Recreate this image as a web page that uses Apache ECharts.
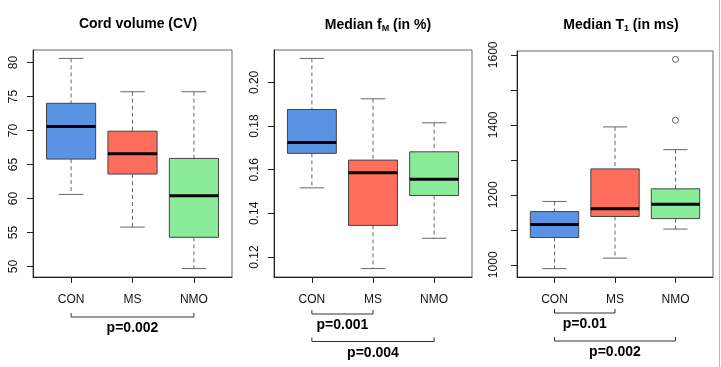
<!DOCTYPE html>
<html>
<head>
<meta charset="utf-8">
<script src="https://cdn.jsdelivr.net/npm/echarts@6/dist/echarts.min.js"></script>
<style>
  html, body { margin: 0; padding: 0; background: #fff; }
  #chart { width: 721px; height: 367px; }
</style>
</head>
<body>
<div id="chart"></div>
<script>
// groups and colours
var groups = ['CON', 'MS', 'NMO'];
var groupColors = ['#5b93e4', '#ff6e5c', '#8aeb98'];

// box stats per group: [lower whisker, Q1, median, Q3, upper whisker]
var cvStats = [
  [60.6, 65.8, 70.6, 74.0, 80.6],
  [55.8, 63.6, 66.6, 69.9, 75.7],
  [49.7, 54.3, 60.4, 65.9, 75.7]
];
var fmStats = [
  [0.1517, 0.1675, 0.1725, 0.1876, 0.2110],
  [0.1147, 0.1345, 0.1586, 0.1644, 0.1925],
  [0.1286, 0.1482, 0.1556, 0.1682, 0.1815]
];
var t1Stats = [
  [989, 1078, 1115, 1152, 1181],
  [1019, 1138, 1160, 1274, 1394],
  [1102, 1132, 1173, 1217, 1329]
];
var t1Outliers = [[3, 1587], [3, 1413]];

// y ticks / labels
var cvTicks = [50, 55, 60, 65, 70, 75, 80];
var fmTicks = [0.12, 0.14, 0.16, 0.18, 0.20];
var t1Ticks = [1000, 1100, 1200, 1300, 1400, 1500, 1600];
var t1Labels = [1000, 1200, 1400, 1600];

// significance brackets: [from group, to group]
var cvPairs = [[1, 3]];
var cvP = ['p=0.002'];
var fmPairs = [[1, 2], [1, 3]];
var fmP = ['p=0.001', 'p=0.004'];
var t1Pairs = [[1, 2], [1, 3]];
var t1P = ['p=0.01', 'p=0.002'];

var FONT = 'Liberation Sans, Arial, Helvetica, sans-serif';

// R style range: data range stretched by 4% each side
function rRange(stats, extra) {
  var all = [];
  stats.forEach(function (s) { all = all.concat(s); });
  (extra || []).forEach(function (p) { all.push(p[1]); });
  var lo = Math.min.apply(null, all), hi = Math.max.apply(null, all);
  var pad = (hi - lo) * 0.04;
  return [lo - pad, hi + pad];
}

var panels = [
  { stats: cvStats, out: [], ticks: cvTicks, labels: cvTicks, fmt: function (v) { return String(v); },
    pairs: cvPairs, p: cvP, brY: [40], grid: { left: 33, top: 50, width: 199, height: 227 }, labMargin: 13 },
  { stats: fmStats, out: [], ticks: fmTicks, labels: fmTicks, fmt: function (v) { return v.toFixed(2); },
    pairs: fmPairs, p: fmP, brY: [37, 64.5], grid: { left: 274, top: 50, width: 198, height: 227 }, labMargin: 13 },
  { stats: t1Stats, out: t1Outliers, ticks: t1Ticks, labels: t1Labels, fmt: function (v) { return String(v); },
    pairs: t1Pairs, p: t1P, brY: [36, 64], grid: { left: 517, top: 51, width: 196, height: 226 }, labMargin: 17 }
];

var grids = [], xAxes = [], yAxes = [], series = [];

panels.forEach(function (pn, k) {
  var yr = rRange(pn.stats, pn.out);
  grids.push(Object.assign({ show: true, borderColor: '#666', borderWidth: 1, containLabel: false }, pn.grid));
  xAxes.push({
    type: 'value', gridIndex: k, min: 0.38, max: 3.62,
    splitLine: { show: false },
    axisLine: { show: true, onZero: false, lineStyle: { color: '#222' } },
    axisTick: { show: true, length: 6, customValues: [1, 2, 3], lineStyle: { color: '#222' } },
    axisLabel: {
      customValues: [1, 2, 3], margin: 17, fontSize: 12, fontFamily: FONT, color: '#111',
      formatter: function (v) { return groups[Math.round(v) - 1]; }
    }
  });
  yAxes.push({
    type: 'value', gridIndex: k, min: yr[0], max: yr[1],
    splitLine: { show: false },
    axisLine: { show: true, lineStyle: { color: '#222' } },
    axisTick: { show: true, length: 6, customValues: pn.ticks, lineStyle: { color: '#222' } },
    axisLabel: {
      customValues: pn.labels, rotate: 90, margin: pn.labMargin, fontSize: 12, fontFamily: FONT, color: '#111',
      formatter: pn.fmt
    }
  });

  series.push({
    type: 'custom', xAxisIndex: k, yAxisIndex: k, clip: false,
    data: pn.stats.map(function (s, i) { return [i + 1].concat(s); }),
    encode: { x: 0, y: [1, 2, 3, 4, 5] },
    renderItem: function (params, api) {
      var x = api.value(0);
      var lo = api.value(1), q1 = api.value(2), med = api.value(3), q3 = api.value(4), hi = api.value(5);
      var pt = function (dx, v) { return api.coord([x + dx, v]); };
      var tl = pt(-0.4, q3), br = pt(0.4, q1);
      var c = pt(0, 0)[0];
      var whisk = { stroke: '#666', lineWidth: 1, lineDash: [4, 3] };
      var cap = { stroke: '#666', lineWidth: 1 };
      return {
        type: 'group',
        children: [
          { type: 'line', shape: { x1: c, y1: pt(0, hi)[1], x2: c, y2: tl[1] }, style: whisk },
          { type: 'line', shape: { x1: c, y1: br[1], x2: c, y2: pt(0, lo)[1] }, style: whisk },
          { type: 'line', shape: { x1: pt(-0.2, hi)[0], y1: pt(0, hi)[1], x2: pt(0.2, hi)[0], y2: pt(0, hi)[1] }, style: cap },
          { type: 'line', shape: { x1: pt(-0.2, lo)[0], y1: pt(0, lo)[1], x2: pt(0.2, lo)[0], y2: pt(0, lo)[1] }, style: cap },
          { type: 'rect', shape: { x: tl[0], y: tl[1], width: br[0] - tl[0], height: br[1] - tl[1] },
            style: { fill: groupColors[params.dataIndex], stroke: '#444', lineWidth: 1 } },
          { type: 'line', shape: { x1: tl[0], y1: pt(0, med)[1], x2: br[0], y2: pt(0, med)[1] },
            style: { stroke: '#000', lineWidth: 3 } }
        ]
      };
    }
  });

  var yMin = yr[0];
  series.push({
    type: 'custom', xAxisIndex: k, yAxisIndex: k, clip: false, silent: true,
    data: pn.pairs,
    encode: { x: [0, 1] },
    renderItem: function (params, api) {
      var a = api.coord([api.value(0), yMin]);
      var b = api.coord([api.value(1), yMin]);
      var y = a[1] + pn.brY[params.dataIndex];
      var st = { stroke: '#333', lineWidth: 1 };
      return {
        type: 'group',
        children: [
          { type: 'line', shape: { x1: a[0], y1: y, x2: b[0], y2: y }, style: st },
          { type: 'line', shape: { x1: a[0], y1: y - 4, x2: a[0], y2: y }, style: st },
          { type: 'line', shape: { x1: b[0], y1: y - 4, x2: b[0], y2: y }, style: st },
          { type: 'text', style: { text: pn.p[params.dataIndex], x: (a[0] + b[0]) / 2, y: y + 11.5,
              align: 'center', verticalAlign: 'middle', fill: '#000',
              fontSize: 14, fontWeight: 'bold', fontFamily: FONT } }
        ]
      };
    }
  });
});

series.push({
  type: 'scatter', xAxisIndex: 2, yAxisIndex: 2,
  data: t1Outliers, symbol: 'circle', symbolSize: 6,
  itemStyle: { color: '#fff', borderColor: '#333', borderWidth: 1 }
});

var titleStyle = {
  fontSize: 14, fontWeight: 'bold', fontFamily: FONT, color: '#000',
  rich: {
    sub: { fontSize: 9, fontWeight: 'bold', fontFamily: FONT, color: '#000', padding: [7, 0, 0, 0] }
  }
};

var chart = echarts.init(document.getElementById('chart'), null, { renderer: 'canvas' });
chart.setOption({
  animation: false,
  backgroundColor: '#fff',
  title: [
    { text: 'Cord volume (CV)', left: 133, top: 12, textAlign: 'center', textStyle: titleStyle },
    { text: 'Median f{sub|M} (in %)', left: 373, top: 12, textAlign: 'center', textStyle: titleStyle },
    { text: 'Median T{sub|1} (in ms)', left: 616, top: 12, textAlign: 'center', textStyle: titleStyle }
  ],
  graphic: [
    { type: 'line', shape: { x1: 719.5, y1: 0, x2: 719.5, y2: 367 }, style: { stroke: '#bbb', lineWidth: 1 } }
  ],
  grid: grids,
  xAxis: xAxes,
  yAxis: yAxes,
  series: series
});
</script>
</body>
</html>
